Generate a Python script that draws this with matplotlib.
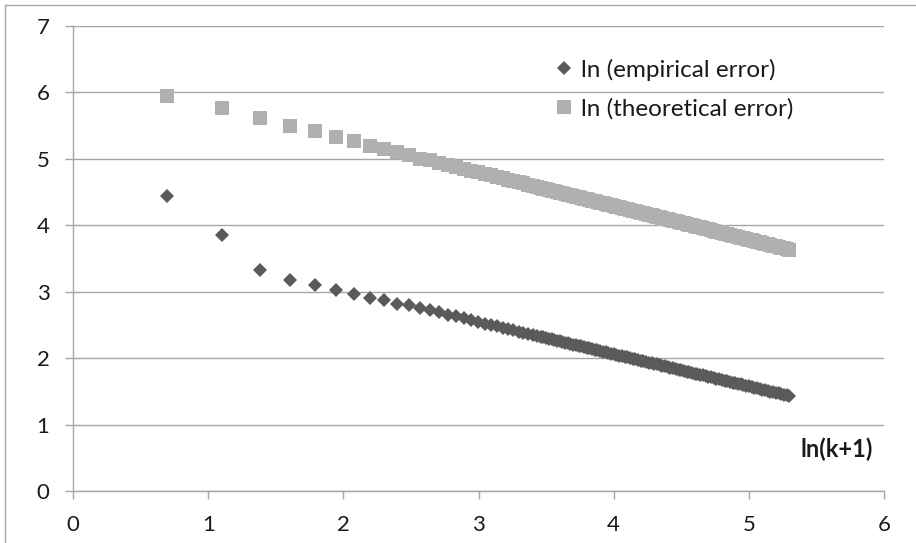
import matplotlib
matplotlib.use("Agg")
import matplotlib.pyplot as plt
from matplotlib.lines import Line2D

plt.rcParams['font.family'] = ['Lato', 'DejaVu Sans']

# individually visible points, x = ln(k+1) for k = 1..30
x_pts = [0.693, 1.099, 1.386, 1.609, 1.792, 1.946, 2.079, 2.197, 2.303, 2.398,
         2.485, 2.565, 2.639, 2.708, 2.773, 2.833, 2.890, 2.944, 2.996, 3.045,
         3.091, 3.135, 3.178, 3.219, 3.258, 3.296, 3.332, 3.367, 3.401, 3.434]
emp_pts = [4.44, 3.86, 3.32, 3.17, 3.10, 3.02, 2.97, 2.90, 2.87, 2.81,
           2.80, 2.76, 2.72, 2.69, 2.65, 2.63, 2.60, 2.57, 2.55, 2.52,
           2.50, 2.48, 2.46, 2.44, 2.42, 2.40, 2.38, 2.37, 2.35, 2.33]
theo_pts = [5.95, 5.76, 5.61, 5.50, 5.42, 5.33, 5.27, 5.20, 5.15, 5.10,
            5.05, 5.00, 4.98, 4.94, 4.91, 4.88, 4.85, 4.82, 4.80, 4.77,
            4.75, 4.73, 4.71, 4.68, 4.66, 4.65, 4.63, 4.61, 4.59, 4.58]

# dense part (markers overlap into a band), read along the band
x_band = [3.46, 3.48, 3.50, 3.52, 3.54, 3.56, 3.58, 3.60, 3.62, 3.64,
          3.66, 3.68, 3.70, 3.72, 3.74, 3.76, 3.78, 3.80, 3.82, 3.84,
          3.86, 3.88, 3.90, 3.92, 3.94, 3.96, 3.98, 4.00, 4.02, 4.04,
          4.06, 4.08, 4.10, 4.12, 4.14, 4.16, 4.18, 4.20, 4.22, 4.24,
          4.26, 4.28, 4.30, 4.32, 4.34, 4.36, 4.38, 4.40, 4.42, 4.44,
          4.46, 4.48, 4.50, 4.52, 4.54, 4.56, 4.58, 4.60, 4.62, 4.64,
          4.66, 4.68, 4.70, 4.72, 4.74, 4.76, 4.78, 4.80, 4.82, 4.84,
          4.86, 4.88, 4.90, 4.92, 4.94, 4.96, 4.98, 5.00, 5.02, 5.04,
          5.06, 5.08, 5.10, 5.12, 5.14, 5.16, 5.18, 5.20, 5.22, 5.24,
          5.26, 5.28, 5.30]
emp_band = [2.322, 2.312, 2.303, 2.293, 2.283, 2.273, 2.264, 2.254, 2.244, 2.235,
            2.225, 2.215, 2.206, 2.196, 2.186, 2.177, 2.167, 2.157, 2.148, 2.138,
            2.128, 2.119, 2.109, 2.099, 2.090, 2.080, 2.070, 2.061, 2.051, 2.041,
            2.032, 2.022, 2.012, 2.003, 1.993, 1.983, 1.973, 1.964, 1.954, 1.944,
            1.935, 1.925, 1.915, 1.906, 1.896, 1.886, 1.877, 1.867, 1.857, 1.848,
            1.838, 1.828, 1.819, 1.809, 1.799, 1.790, 1.780, 1.770, 1.761, 1.751,
            1.741, 1.731, 1.722, 1.712, 1.702, 1.693, 1.683, 1.673, 1.664, 1.654,
            1.644, 1.635, 1.625, 1.615, 1.606, 1.596, 1.586, 1.577, 1.567, 1.557,
            1.548, 1.538, 1.528, 1.519, 1.509, 1.499, 1.489, 1.480, 1.470, 1.460,
            1.451, 1.441, 1.431]
theo_band = [4.563, 4.553, 4.543, 4.532, 4.522, 4.512, 4.502, 4.492, 4.482, 4.472,
             4.462, 4.452, 4.442, 4.431, 4.421, 4.411, 4.401, 4.391, 4.381, 4.371,
             4.361, 4.351, 4.341, 4.330, 4.320, 4.310, 4.300, 4.290, 4.280, 4.270,
             4.260, 4.250, 4.240, 4.229, 4.219, 4.209, 4.199, 4.189, 4.179, 4.169,
             4.159, 4.149, 4.139, 4.128, 4.118, 4.108, 4.098, 4.088, 4.078, 4.068,
             4.058, 4.048, 4.038, 4.027, 4.017, 4.007, 3.997, 3.987, 3.977, 3.967,
             3.957, 3.947, 3.937, 3.926, 3.916, 3.906, 3.896, 3.886, 3.876, 3.866,
             3.856, 3.846, 3.836, 3.825, 3.815, 3.805, 3.795, 3.785, 3.775, 3.765,
             3.755, 3.745, 3.735, 3.724, 3.714, 3.704, 3.694, 3.684, 3.674, 3.664,
             3.654, 3.644, 3.634]

x_ticks = [0, 1, 2, 3, 4, 5, 6]
y_ticks = [0, 1, 2, 3, 4, 5, 6, 7]

DARK = '#5a5a5a'
LIGHT = '#b0b0b0'
GRID = '#a6a6a6'

fig = plt.figure(figsize=(9.16, 5.43), dpi=100)
ax = fig.add_axes([0.0797, 0.0954, 0.8854, 0.857])

ax.plot(x_pts + x_band, emp_pts + emp_band, linestyle='none', marker='D',
        markersize=7.0, color=DARK, markeredgewidth=0, label='ln (empirical error)')
ax.plot(x_pts + x_band, theo_pts + theo_band, linestyle='none', marker='s',
        markersize=9.6, color=LIGHT, markeredgewidth=0, label='ln (theoretical error)')

ax.set_xlim(0, 6)
ax.set_ylim(0, 7)
ax.set_xticks(x_ticks)
ax.set_yticks(y_ticks)
ax.yaxis.grid(True, color=GRID, linewidth=1.0)
ax.set_axisbelow(True)
for s in ['top', 'right']:
    ax.spines[s].set_visible(False)
for s in ['left', 'bottom']:
    ax.spines[s].set_color(GRID)
    ax.spines[s].set_linewidth(1.0)
ax.tick_params(axis='both', direction='out', length=6, width=1.0, color=GRID,
               labelsize=16, labelcolor='#1a1a1a', pad=11)

ax.text(0.986, 0.0907, 'ln(k+1)', transform=ax.transAxes, ha='right', va='center',
        fontsize=17, fontweight='bold', color='#1a1a1a')

ax.legend(loc='upper left', bbox_to_anchor=(0.593, 0.929), frameon=False,
          fontsize=17.5, handlelength=0.8, handletextpad=0.3, labelspacing=0.71,
          borderpad=0, borderaxespad=0, labelcolor='#1a1a1a')

# outer chart frame (left and top edges visible)
fig.add_artist(Line2D([4.5 / 916, 4.5 / 916], [0, 1 - 5 / 543], color=GRID, linewidth=1.0))
fig.add_artist(Line2D([4.5 / 916, 1], [1 - 5 / 543, 1 - 5 / 543], color=GRID, linewidth=1.0))

fig.savefig('out.png', dpi=100)
